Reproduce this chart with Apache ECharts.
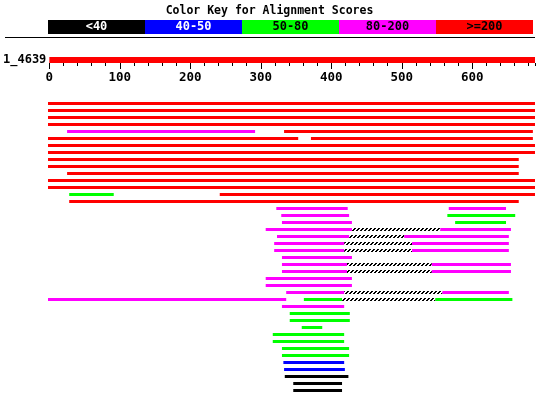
<!DOCTYPE html>
<html><head><meta charset="utf-8">
<script src="https://cdn.jsdelivr.net/npm/echarts@6/dist/echarts.min.js"></script>
<style>html,body{margin:0;padding:0;background:#fff}#c{width:539px;height:395px}</style>
</head><body><div id="c"></div>
<script>
// ---- data ----
const keyLabels = ['<40', '40-50', '50-80', '80-200', '>=200'];
const keyColors = ['#000000', '#0000ff', '#00ff00', '#ff00ff', '#ff0000'];
const keyTextColors = ['#ffffff', '#ffffff', '#000000', '#000000', '#000000'];
const queryName = '1_4639';
const queryLength = 689;
const majorTicks = [0, 100, 200, 300, 400, 500, 600];
// hit segments: [row, start, end, scoreClass(0..4)]
const hsps = [
  [0,0,689,4],[1,0,689,4],[2,0,689,4],[3,0,689,4],
  [4,27,293,3],[4,334,686,4],
  [5,0,354,4],[5,372,686,4],
  [6,0,689,4],[7,0,689,4],
  [8,0,666,4],[9,0,666,4],[10,27,666,4],
  [11,0,689,4],[12,0,689,4],
  [13,30,93,2],[13,243,689,4],
  [14,30,666,4],
  [15,323,424,3],[15,567,648,3],
  [16,330,426,3],[16,565,661,2],
  [17,331,430,3],[17,576,648,2],
  [18,308,430,3],[18,555,655,3],
  [19,324,426,3],[19,504,652,3],
  [20,320,419,3],[20,515,652,3],
  [21,320,419,3],[21,515,652,3],
  [22,331,430,3],
  [23,331,423,3],[23,543,655,3],
  [24,331,423,3],[24,543,655,3],
  [25,308,430,3],
  [26,308,430,3],
  [27,337,419,3],[27,558,652,3],
  [28,0,337,3],[28,362,416,2],[28,548,657,2],
  [29,331,419,3],
  [30,342,427,2],[31,342,427,2],
  [32,359,388,2],
  [33,318,419,2],[34,318,419,2],
  [35,331,426,2],[36,331,426,2],
  [37,333,419,1],[38,334,420,1],
  [39,335,425,0],[40,347,416,0],[41,347,416,0]
];
// gaps between HSPs of the same hit: [row, start, end]
const gaps = [
  [18,430,555],[19,426,504],[20,419,515],[21,419,515],
  [23,423,543],[24,423,543],[27,419,558],[28,416,548]
];
const rowCount = 42;

// ---- hatch pattern ----
const pc = document.createElement('canvas');
pc.width = 4; pc.height = 4;
const pctx = pc.getContext('2d');
pctx.fillStyle = '#fff'; pctx.fillRect(0,0,4,4);
pctx.fillStyle = '#000';
[[2,0],[3,0],[1,1],[2,1],[0,2],[1,2],[3,3],[0,3]].forEach(p => pctx.fillRect(p[0],p[1],1,1));

const FONT = 'DejaVu Sans Mono';
const BAR_H = 3;

const chart = echarts.init(document.getElementById('c'), null, {renderer:'canvas'});

function segItem(fill) {
  return function (params, api) {
    const r = api.value(0), s = api.value(1), e = api.value(2);
    const p0 = api.coord([s, r]), p1 = api.coord([e, r]);
    const f = fill === 'class' ? keyColors[api.value(3)] : fill;
    return {type:'rect', shape:{x:p0[0], y:p0[1]-BAR_H/2, width:p1[0]-p0[0], height:BAR_H},
            style:{fill:f}};
  };
}

chart.setOption({
  animation:false,
  graphic:[
    {type:'text', left:'center', top:5, style:{text:'Color Key for Alignment Scores', font:'bold 11.5px '+FONT, fill:'#000'}},
    {type:'line', shape:{x1:5, y1:37.5, x2:535, y2:37.5}, style:{stroke:'#000', lineWidth:1}}
  ],
  grid:[
    {left:48, top:20, width:485, height:14},
    {left:48, top:57, width:487, height:6},
    {left:48, top:103.5, width:487, height:287}
  ],
  xAxis:[
    {gridIndex:0, type:'category', data:keyLabels, show:false, boundaryGap:true},
    {gridIndex:1, type:'value', min:0, max:queryLength, interval:20, position:'bottom',
     axisLine:{show:false}, splitLine:{show:false}, axisLabel:{show:false},
     axisTick:{show:true, length:3, lineStyle:{color:'#000', width:1}}},
    {gridIndex:1, type:'value', min:0, max:queryLength, interval:100, position:'bottom',
     axisLine:{show:false}, splitLine:{show:false},
     axisTick:{show:true, length:6, lineStyle:{color:'#000', width:1}},
     axisLabel:{show:true, showMaxLabel:false, margin:8, color:'#000', fontFamily:FONT, fontWeight:'bold', fontSize:12.5,
       formatter: v => majorTicks.indexOf(v) >= 0 ? String(v) : ''}},
    {gridIndex:2, type:'value', min:0, max:queryLength, show:false}
  ],
  yAxis:[
    {gridIndex:0, type:'value', min:0, max:1, show:false},
    {gridIndex:1, type:'category', data:[queryName], axisLine:{show:false}, axisTick:{show:false},
     axisLabel:{margin:3, color:'#000', fontFamily:FONT, fontWeight:'bold', fontSize:12}},
    {gridIndex:2, type:'value', min:0, max:rowCount-1, inverse:true, show:false}
  ],
  series:[
    {type:'custom', xAxisIndex:0, yAxisIndex:0,
     data: keyLabels.map((l,i)=>[i]),
     renderItem(params, api){
       const i = api.value(0);
       const c = api.coord([i, 0]);
       const w = api.size([1, 0])[0];
       const top = api.coord([i, 1])[1];
       return {type:'group', children:[
         {type:'rect', shape:{x:c[0]-w/2, y:top, width:w, height:c[1]-top}, style:{fill:keyColors[i]}},
         {type:'text', x:c[0], y:(top+c[1])/2, style:{text:keyLabels[i], fill:keyTextColors[i], font:'bold 12px '+FONT, align:'center', verticalAlign:'middle'}}
       ]};
     }},
    {type:'custom', xAxisIndex:2, yAxisIndex:1,
     data:[[0, queryLength]],
     renderItem(params, api){
       const p0 = api.coord([api.value(0), 0]), p1 = api.coord([api.value(1), 0]);
       return {type:'rect', shape:{x:p0[0], y:57, width:p1[0]-p0[0], height:6}, style:{fill:keyColors[4]}};
     }},
    {type:'custom', xAxisIndex:3, yAxisIndex:2, data:gaps, renderItem:segItem({image:pc, repeat:'repeat'})},
    {type:'custom', xAxisIndex:3, yAxisIndex:2, data:hsps, renderItem:segItem('class')}
  ]
});
</script></body></html>
